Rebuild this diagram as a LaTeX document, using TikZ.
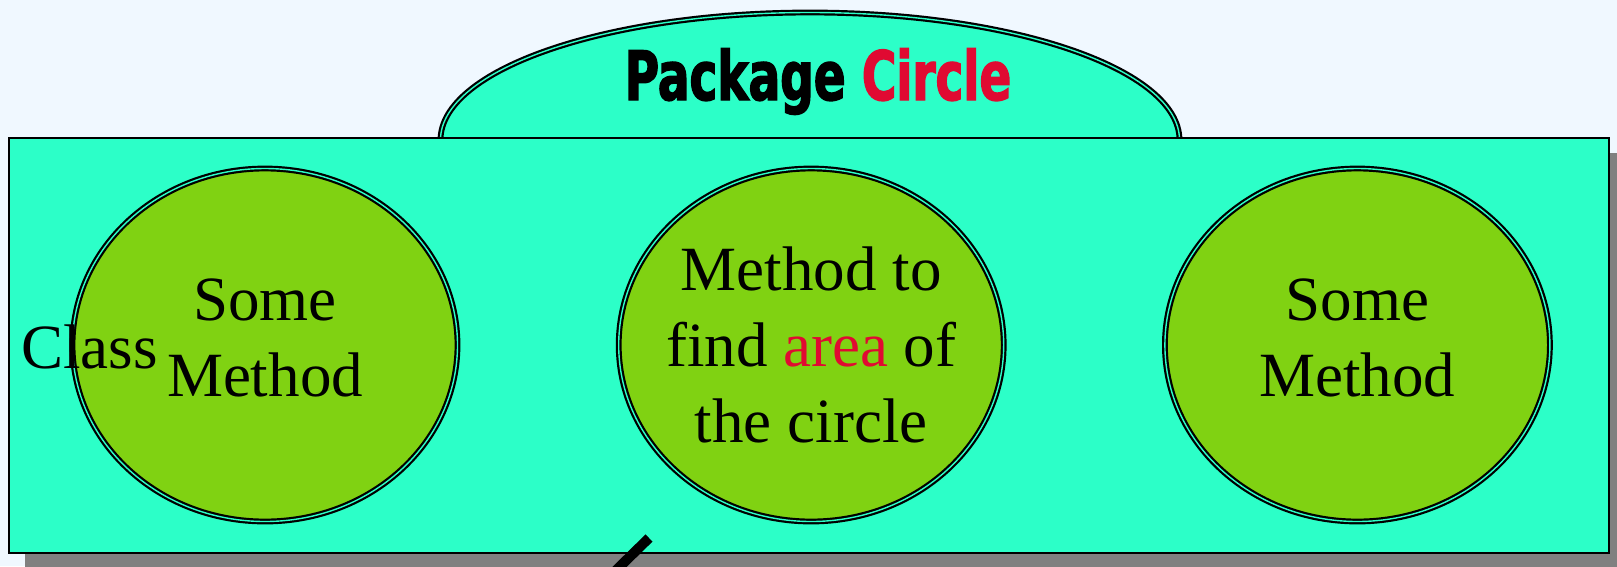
\documentclass[tikz,border=0pt]{standalone}
\usepackage{fontspec}
\setmainfont{Liberation Serif}
\newfontfamily\titlefont[FakeStretch=0.69, FakeBold=2]{DejaVu Sans}
\usetikzlibrary{positioning, shapes.geometric, shadows}

\definecolor{pagebg}{RGB}{240,248,255}
\definecolor{pkgcyan}{RGB}{44,255,200}
\definecolor{methodgreen}{RGB}{128,210,18}
\definecolor{keyred}{RGB}{224,10,50}
\definecolor{shadowgray}{RGB}{128,128,128}

\begin{document}
\begin{tikzpicture}[x=1pt, y=-1pt, node distance=159pt,
    methodnode/.style={draw, ellipse, fill=methodgreen, line width=2.2pt, double=pkgcyan, double distance=1.4pt,
        minimum width=385pt, minimum height=353pt, inner xsep=-30pt, inner ysep=0pt, align=center,
        font=\fontsize{63}{76}\selectfont}]
    \fill[pagebg] (0,0) rectangle (1617,566);
    \useasboundingbox (0,0) rectangle (1617,566);
    \clip (0,0) rectangle (1617,566);

    % Paquete y clase
    \node (package) [draw, ellipse, fill=pkgcyan, line width=2.2pt, double=pkgcyan, double distance=1.4pt,
        minimum width=739pt, minimum height=255pt] at (810,140) {};
    \node (pkgname) [anchor=base, font=\titlefont\bfseries\fontsize{68}{70}\selectfont] at (818,100) {Package \textcolor{keyred}{Circle}};
    \node (class) [draw, rectangle, fill=pkgcyan, line width=2pt, minimum width=1600pt, minimum height=415pt,
        drop shadow={shadow xshift=16pt, shadow yshift=-15pt, fill=shadowgray, opacity=1}] at (809,345.5) {};

    % Metodos
    \node (leftmethod) [methodnode, text depth=14pt] at (265,345) {Some\\Method};
    \node (areamethod) [methodnode, right=of leftmethod] {Method to\\find \textcolor{keyred}{area} of\\the circle};
    \node (rightmethod) [methodnode, text depth=14pt, right=of areamethod] {Some\\Method};
    \node (classname) [anchor=base west, font=\fontsize{63}{76}\selectfont, inner sep=0pt] at (21,368) {Class};

    % Puntero
    \coordinate (ptrtip) at (649,538);
    \coordinate (ptrend) at (601,585);
    \draw[line width=10pt] (ptrtip) -- (ptrend);
\end{tikzpicture}
\end{document}
